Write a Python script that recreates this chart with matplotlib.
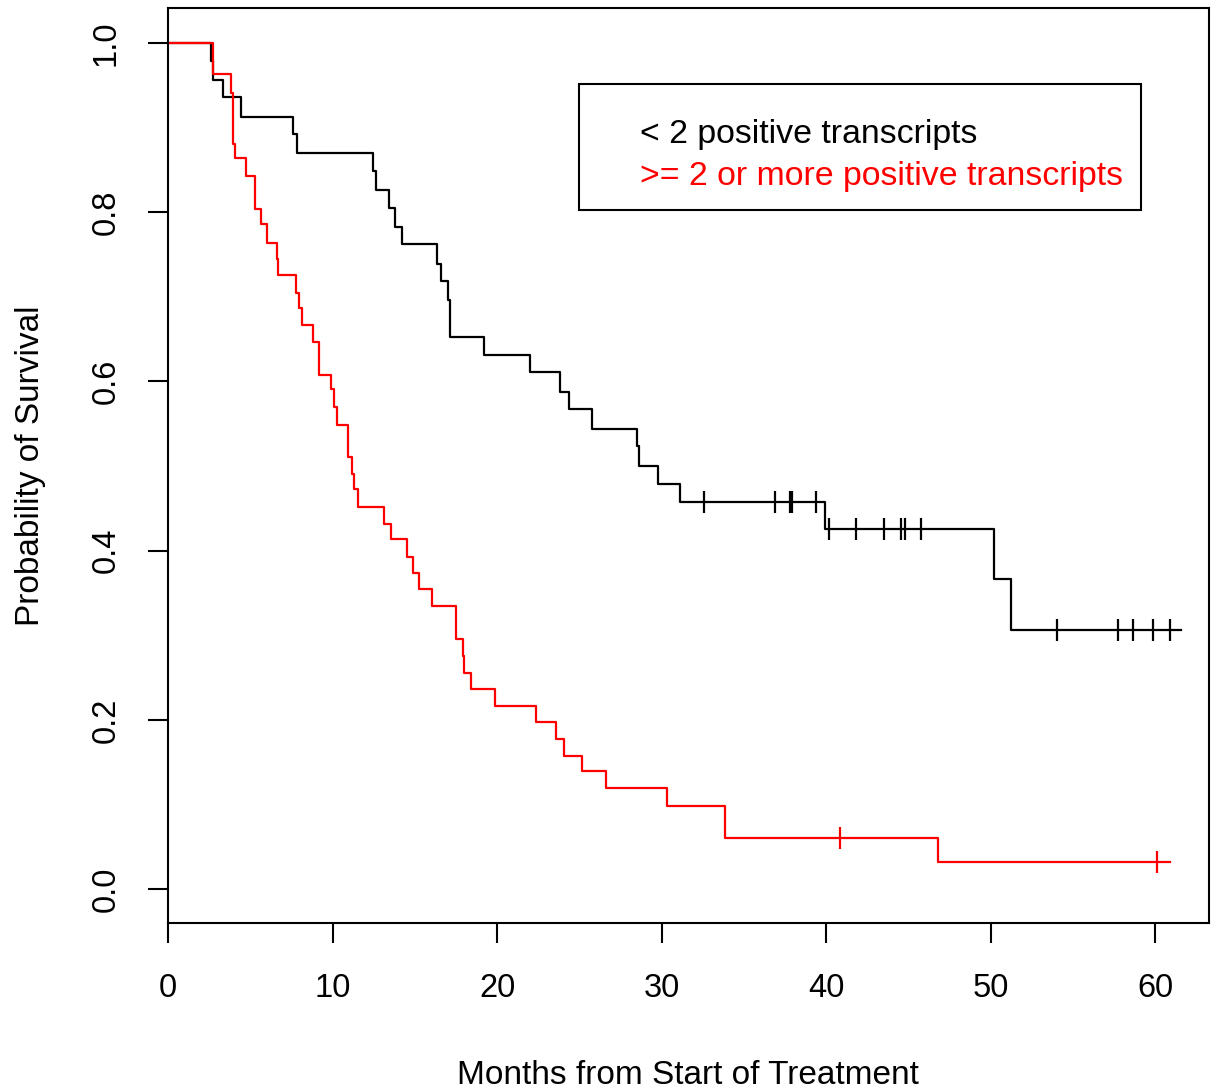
import numpy as np
import matplotlib.pyplot as plt
from matplotlib.patches import Rectangle

plt.rcParams['font.family'] = ['Liberation Sans', 'DejaVu Sans']

# < 2 positive transcripts (black): event times and survival after each drop
times_lt2 = [2.6, 2.72, 3.37, 4.44, 7.62, 7.86, 12.48, 12.62, 13.41, 13.82, 14.22,
             16.33, 16.6, 17.0, 17.14, 19.23, 22.0, 23.83, 24.38, 25.8, 28.49, 28.6,
             29.77, 31.1, 39.94, 50.23, 51.25]
surv_lt2 = [0.979, 0.956, 0.936, 0.913, 0.892, 0.870, 0.849, 0.826, 0.805, 0.782, 0.762,
            0.739, 0.719, 0.696, 0.652, 0.631, 0.611, 0.587, 0.567, 0.544, 0.524, 0.500,
            0.479, 0.457, 0.426, 0.367, 0.306]
censor_lt2 = [32.55, 36.9, 37.8, 37.9, 39.4, 40.2, 41.8, 43.5, 44.56, 44.8, 45.75,
              54.04, 57.73, 58.64, 59.86, 60.9]
end_lt2 = 61.58

# >= 2 positive transcripts (red)
times_ge2 = [2.72, 3.81, 3.93, 4.07, 4.74, 5.29, 5.63, 6.04, 6.61, 6.71, 7.76, 7.98,
             8.17, 8.83, 9.2, 9.89, 10.11, 10.25, 10.92, 11.19, 11.31, 11.57, 13.15,
             13.54, 14.51, 14.87, 15.28, 16.07, 17.51, 17.91, 18.01, 18.42, 19.9, 22.39,
             23.59, 24.09, 25.17, 26.63, 30.32, 33.86, 46.79]
surv_ge2 = [0.963, 0.941, 0.881, 0.864, 0.843, 0.804, 0.786, 0.764, 0.745, 0.726, 0.705,
            0.687, 0.667, 0.647, 0.608, 0.591, 0.570, 0.549, 0.511, 0.4905, 0.4725, 0.452,
            0.431, 0.414, 0.393, 0.373, 0.355, 0.3345, 0.2955, 0.275, 0.255, 0.2367, 0.216,
            0.198, 0.1775, 0.157, 0.139, 0.119, 0.098, 0.060, 0.032]
censor_ge2 = [40.85, 60.12]
end_ge2 = 60.9

labels = ['< 2 positive transcripts', '>= 2 or more positive transcripts']
colors = ['black', 'red']


def km_curve(ax, times, surv, censor, end, color):
    x = [0] + times + [end]
    y = [1.0] + surv + [surv[-1]]
    ax.step(x, y, where='post', color=color, lw=1.6)
    # survival value at each censoring time, looked up on the step curve
    idx = np.searchsorted(times, censor, side='right')
    cy = [1.0 if i == 0 else surv[i - 1] for i in idx]
    ax.plot(censor, cy, ls='none', marker='|', ms=16, mew=1.6, color=color)


fig = plt.figure(figsize=(12.13, 10.92), dpi=100)
ax = fig.add_axes([0.1385, 0.155, 0.858, 0.8377])

km_curve(ax, times_lt2, surv_lt2, censor_lt2, end_lt2, colors[0])
km_curve(ax, times_ge2, surv_ge2, censor_ge2, end_ge2, colors[1])

ax.set_xlim(0, 63.26)
ax.set_ylim(-0.0398, 1.0414)
ax.set_xticks([0, 10, 20, 30, 40, 50, 60])
ax.set_yticks([0.0, 0.2, 0.4, 0.6, 0.8, 1.0])
ax.set_yticklabels(['0.0', '0.2', '0.4', '0.6', '0.8', '1.0'], rotation=90, va='center')
ax.tick_params(axis='x', length=14.4, width=1.5, pad=22, labelsize=23.5)
ax.tick_params(axis='y', length=14.4, width=1.5, pad=19, labelsize=23.5)
for s in ax.spines.values():
    s.set_linewidth(1.5)

ax.set_xlabel('Months from Start of Treatment', fontsize=24, labelpad=40)
ax.set_ylabel('Probability of Survival', fontsize=24, labelpad=32)

# legend box drawn R-style: frame with coloured text, no line keys
ax.add_patch(Rectangle((0.3949, 0.7792), 0.5401, 0.1377, transform=ax.transAxes,
                       fill=False, edgecolor='black', lw=1.5, zorder=5))
for lab, col, yy in zip(labels, colors, [0.8524, 0.8065]):
    ax.text(0.4535, yy, lab, color=col, fontsize=24.4, ha='left', va='baseline',
            transform=ax.transAxes, zorder=6)

plt.savefig('out.png', dpi=100)
